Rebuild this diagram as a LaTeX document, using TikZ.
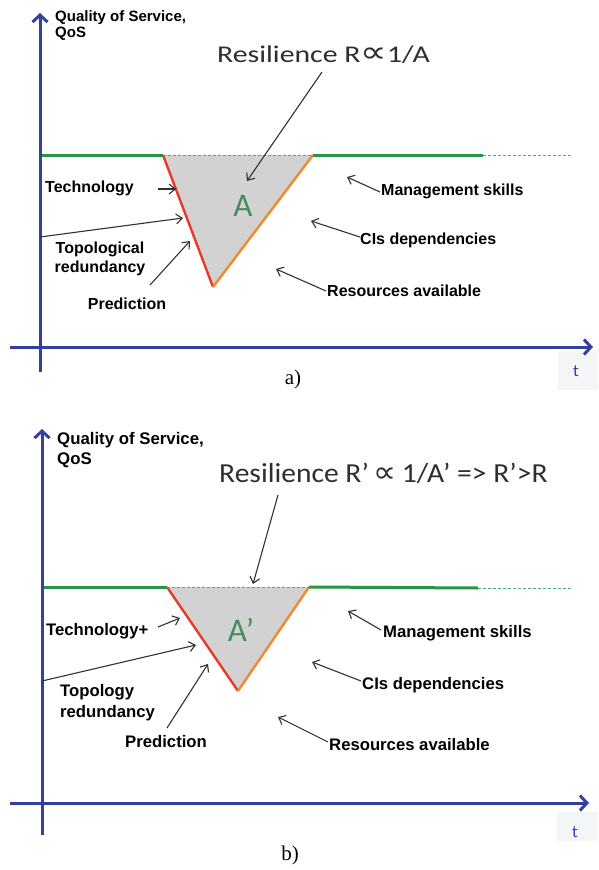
\documentclass[tikz,border=0pt]{standalone}
\usepackage{fontspec}
\setmainfont{Liberation Sans}
\newfontfamily\califont{Carlito}
\newfontfamily\symbfont{DejaVu Sans}
\newfontfamily\serffont{Liberation Serif}
\usetikzlibrary{arrows.meta}
\definecolor{axisblue}{RGB}{52,64,158}
\definecolor{qosgreen}{RGB}{38,150,70}
\definecolor{dipred}{RGB}{232,58,42}
\definecolor{diporange}{RGB}{245,135,45}
\definecolor{areagray}{RGB}{210,210,210}
\definecolor{agreen}{RGB}{70,140,90}
\definecolor{ptrgray}{RGB}{50,50,50}
\definecolor{tbox}{RGB}{244,245,247}
\newcommand{\bigprop}{{\symbfont\fontsize{30}{30}\selectfont ∝}}
\tikzset{
  axisline/.style={draw=axisblue, line width=3pt, -{Straight Barb[length=7pt,width=15pt]}},
  qosline/.style={draw=qosgreen, line width=3pt},
  qosdash/.style={draw=qosgreen!80, line width=0.9pt, dash pattern=on 3pt off 2pt},
  lbla/.style={font=\fontsize{16}{19}\selectfont\bfseries, text=black, inner sep=0pt},
  lblb/.style={font=\fontsize{16.7}{21}\selectfont\bfseries, text=black, inner sep=0pt},
  qlbla/.style={font=\fontsize{15}{16}\selectfont\bfseries, text=black, inner sep=0pt, align=left},
  qlblb/.style={font=\fontsize{16.8}{20}\selectfont\bfseries, text=black, inner sep=0pt, align=left},
  ptr/.style={draw=ptrgray, line width=1.1pt, -{Straight Barb[length=6pt,width=10pt]}},
  titlea/.style={font=\califont\fontsize{24}{28}\selectfont, text=black!82, inner sep=0pt},
  titleb/.style={font=\califont\fontsize{27.5}{30}\selectfont, text=black!82, inner sep=0pt},
  areatxt/.style={font=\califont\fontsize{33}{36}\selectfont, text=agreen, inner sep=0pt},
  tlbl/.style={font=\califont\fontsize{17}{20}\selectfont, text=axisblue, inner sep=0pt},
  caption/.style={font=\serffont\fontsize{21}{24}\selectfont, inner sep=0pt}
}
\begin{document}
\begin{tikzpicture}[x=1pt,y=-1pt]
\useasboundingbox (0,0) rectangle (598,870);
\fill[white] (0,0) rectangle (598,870);

% ================= panel a =================
\fill[tbox] (558,351) rectangle (598,390);
\node[tlbl] (ta) at (576,371) {t};
% triangle
\coordinate (aL) at (163,155);
\coordinate (aR) at (313,155);
\coordinate (aB) at (213,287);
\fill[areagray] (aL) -- (aR) -- (aB) -- cycle;
\draw[dipred, line width=2.4pt] (aL) -- (aB);
\draw[diporange, line width=2.4pt] (aB) -- (aR);
% QoS line
\coordinate (aQ0) at (40,155);
\coordinate (aQ3) at (483,155);
\coordinate (aQ4) at (572,155);
\draw[qosline] (aQ0) -- (aL);
\draw[qosdash] (aL) -- (aR);
\draw[qosline] (aR) -- (aQ3);
\draw[qosdash] (aQ3) -- (aQ4);
% axes
\coordinate (aY0) at (40,372);
\coordinate (aY1) at (40,13);
\coordinate (aX0) at (10,347);
\coordinate (aX1) at (593,347);
\draw[axisline] (aY0) -- (aY1);
\draw[axisline] (aX0) -- (aX1);
% texts
\node[qlbla, anchor=base west] (aqos) at (55,37) {Quality of Service,\\QoS};
\node[titlea, anchor=base west] (atitle) at (217,62) {\scalebox{1.24}[1]{Resilience R\bigprop1/A}};
\node[areatxt] (aA) at (243,206) {A};
\node[lbla, anchor=west] (atech) at (45,188) {Technology};
\node[lbla, align=center] (atopo) at (100,259) {Topological\\redundancy};
\node[lbla] (apred) at (127,304) {Prediction};
\node[lbla, anchor=west] (amgmt) at (381,191) {Management skills};
\node[lbla, anchor=west] (acis) at (360,240) {CIs dependencies};
\node[lbla, anchor=west] (ares) at (327,291) {Resources available};
% pointers
\coordinate (atitS) at (322,72);  \coordinate (atitE) at (247,181);
\draw[ptr] (atitS) -- (atitE);
\coordinate (atechS) at (158,189); \coordinate (atechE) at (176,189);
\draw[ptr] (atechS) -- (atechE);
\coordinate (atopS) at (40,237); \coordinate (atopE) at (183,218);
\draw[ptr] (atopS) -- (atopE);
\coordinate (apreS) at (150,285); \coordinate (apreE) at (190,241);
\draw[ptr] (apreS) -- (apreE);
\coordinate (amgS) at (380,192); \coordinate (amgE) at (347,177);
\draw[ptr] (amgS) -- (amgE);
\coordinate (acisS) at (360,237); \coordinate (acisE) at (311,221);
\draw[ptr] (acisS) -- (acisE);
\coordinate (aresS) at (326,291); \coordinate (aresE) at (276,269);
\draw[ptr] (aresS) -- (aresE);
\node[caption] (capa) at (293,379) {a)};

% ================= panel b =================
\fill[tbox] (557,812) rectangle (598,841);
\node[tlbl] (tb) at (575,832) {t};
\coordinate (bL) at (167,587);
\coordinate (bR) at (309,587);
\coordinate (bB) at (238,691);
\fill[areagray] (bL) -- (bR) -- (bB) -- cycle;
\draw[dipred, line width=2.4pt] (bL) -- (bB);
\draw[diporange, line width=2.4pt] (bB) -- (bR);
\coordinate (bQ0) at (42,587);
\coordinate (bQ3) at (478,588);
\coordinate (bQ4) at (572,588);
\draw[qosline] (bQ0) -- (bL);
\draw[qosdash] (bL) -- (bR);
\draw[qosline] (bR) -- (bQ3);
\draw[qosdash] (bQ3) -- (bQ4);
\coordinate (bY0) at (42,835);
\coordinate (bY1) at (42,429);
\coordinate (bX0) at (10,803);
\coordinate (bX1) at (589,803);
\draw[axisline] (bY0) -- (bY1);
\draw[axisline] (bX0) -- (bX1);
\node[qlblb, anchor=base west] (bqos) at (57,464) {Quality of Service,\\QoS};
\node[titleb, anchor=base west] (btitle) at (219,482) {\scalebox{1.075}[1]{Resilience R’\,\bigprop\,1/A’ => R’>R}};
\node[areatxt] (bA) at (241,630) {A’};
\node[lblb, anchor=west] (btech) at (46,631) {Technology+};
\node[lblb, align=left, anchor=west] (btopo) at (60,703) {Topology\\redundancy};
\node[lblb, anchor=west] (bpred) at (125,742) {Prediction};
\node[lblb, anchor=west] (bmgmt) at (383,633) {Management skills};
\node[lblb, anchor=west] (bcis) at (362,685) {CIs dependencies};
\node[lblb, anchor=west] (bres) at (329,745) {Resources available};
\coordinate (btitS) at (278,495); \coordinate (btitE) at (253,584);
\draw[ptr] (btitS) -- (btitE);
\coordinate (btechS) at (158,627); \coordinate (btechE) at (180,618);
\draw[ptr] (btechS) -- (btechE);
\coordinate (btopS) at (42,681); \coordinate (btopE) at (196,645);
\draw[ptr] (btopS) -- (btopE);
\coordinate (bpreS) at (167,728); \coordinate (bpreE) at (208,664);
\draw[ptr] (bpreS) -- (bpreE);
\coordinate (bmgS) at (381,630); \coordinate (bmgE) at (348,611);
\draw[ptr] (bmgS) -- (bmgE);
\coordinate (bcisS) at (361,681); \coordinate (bcisE) at (312,662);
\draw[ptr] (bcisS) -- (bcisE);
\coordinate (bresS) at (328,742); \coordinate (bresE) at (278,717);
\draw[ptr] (bresS) -- (bresE);
\node[caption] (capb) at (290,855) {b)};
\end{tikzpicture}
\end{document}
